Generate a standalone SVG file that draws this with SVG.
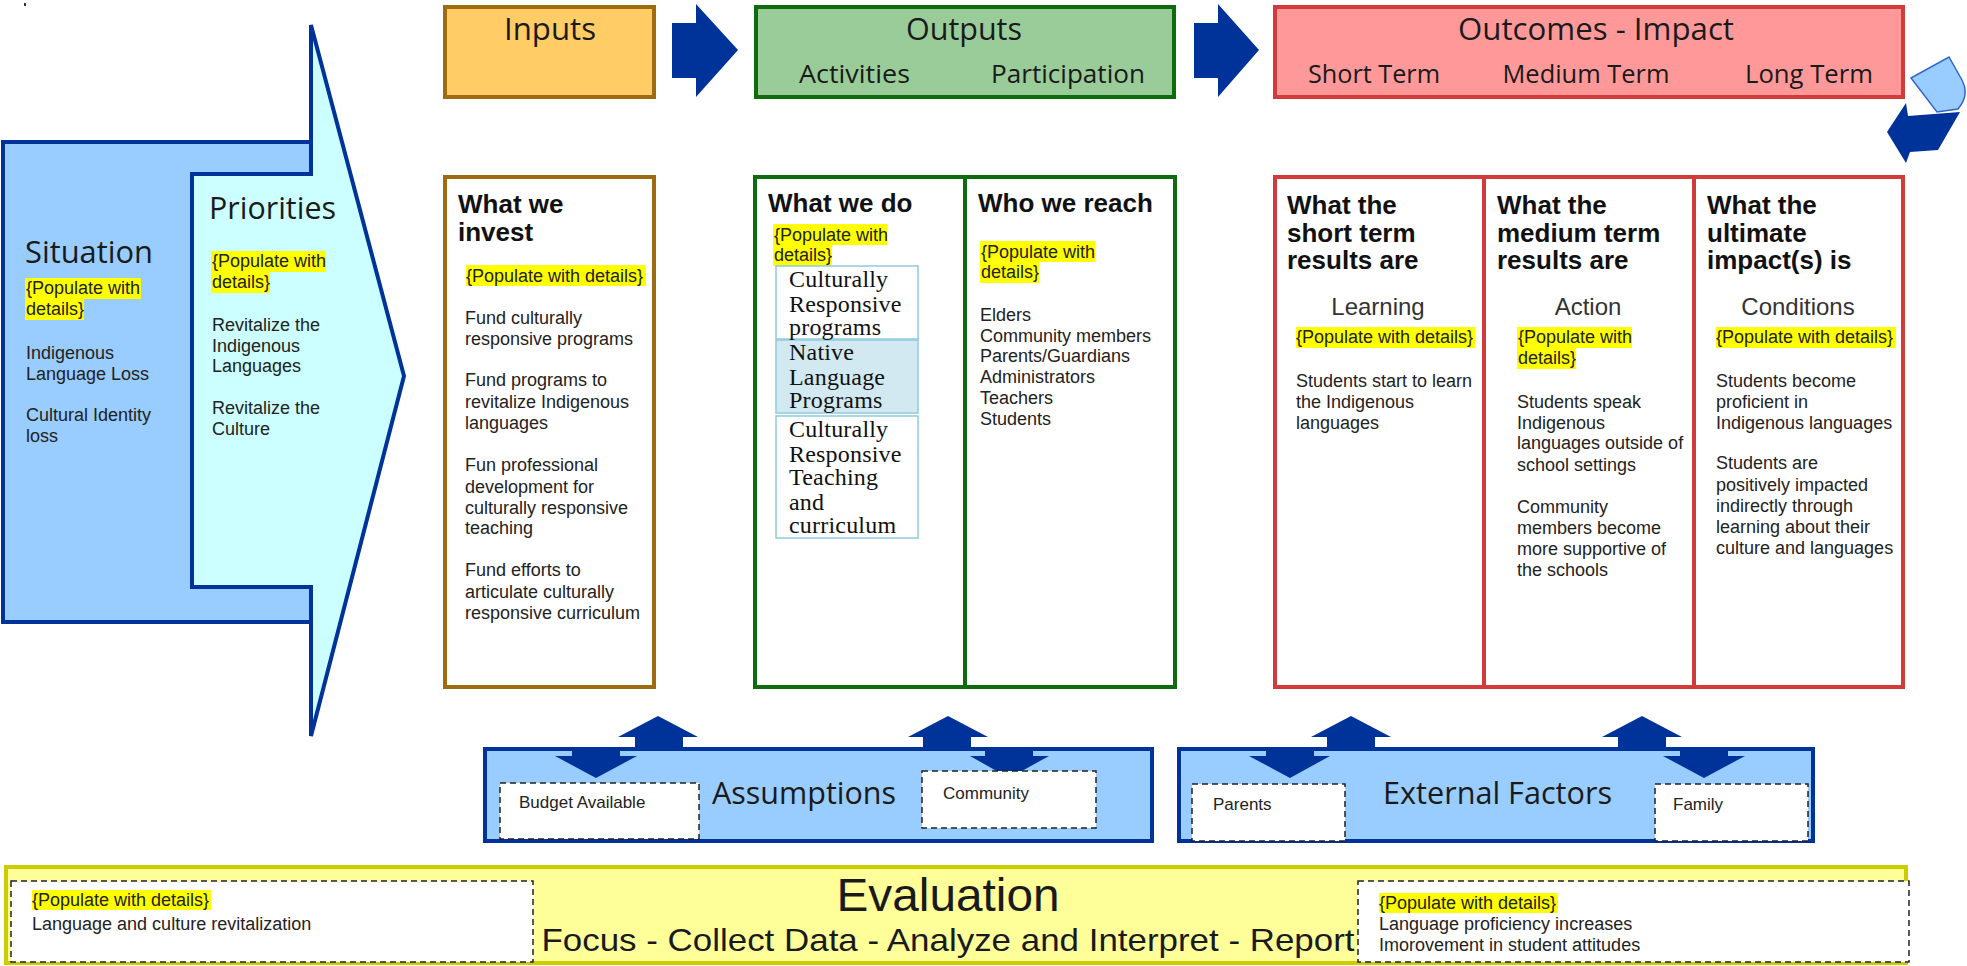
<svg xmlns="http://www.w3.org/2000/svg" width="1967" height="966" viewBox="0 0 1967 966">
<style>
.hd{font-family:"Open Sans","Noto Sans",sans-serif;font-size:31px;fill:#1a1a1a}
.sub{font-family:"Open Sans","Noto Sans",sans-serif;font-size:26px;fill:#1a1a1a}
.b{font-family:"Liberation Sans",Arial,sans-serif;font-size:26px;font-weight:bold;fill:#111}
.t{font-family:"Liberation Sans",Arial,sans-serif;font-size:18px;fill:#222}
.s{font-family:"Liberation Sans",Arial,sans-serif;font-size:17px;fill:#222}
.m{font-family:"Liberation Sans",Arial,sans-serif;font-size:24px;fill:#333}
.sf{font-family:"Liberation Serif","Times New Roman",serif;font-size:24px;letter-spacing:0.2px;fill:#111}
.hl{fill:#FFFF00}
.dbl{fill:#003399}
.blue{fill:#99CCFF;stroke:#003399;stroke-width:4}
.dash{fill:#fff;stroke:#222;stroke-width:1.5;stroke-dasharray:6 4}
.sbox{stroke:#8FCBE0;stroke-width:1.5}
</style>
<rect x="24" y="3" width="2" height="3" fill="#333"/>

<g id="situation">
<rect x="3" y="142" width="308" height="480" class="blue"/>
<text class="hd" x="25" y="263" textLength="128" lengthAdjust="spacingAndGlyphs">Situation</text>
<rect class="hl" x="25" y="278" width="116" height="21"/>
<rect class="hl" x="25" y="299" width="59" height="21"/>
<text class="t" x="26" y="294">{Populate with</text>
<text class="t" x="26" y="315">details}</text>
<text class="t" x="26" y="359">Indigenous</text>
<text class="t" x="26" y="380">Language Loss</text>
<text class="t" x="26" y="421">Cultural Identity</text>
<text class="t" x="26" y="442">loss</text>
</g>

<g id="priorities">
<polygon points="192,174 311,174 311,25 404,376 311,736 311,587 192,587" fill="#CCFFFF" stroke="#003399" stroke-width="4" stroke-linejoin="miter"/>
<text class="hd" x="209" y="219" textLength="127" lengthAdjust="spacingAndGlyphs">Priorities</text>
<rect class="hl" x="211" y="251" width="115" height="21"/>
<rect class="hl" x="211" y="272" width="59" height="21"/>
<text class="t" x="212" y="267">{Populate with</text>
<text class="t" x="212" y="288">details}</text>
<text class="t" x="212" y="331">Revitalize the</text>
<text class="t" x="212" y="352">Indigenous</text>
<text class="t" x="212" y="372">Languages</text>
<text class="t" x="212" y="414">Revitalize the</text>
<text class="t" x="212" y="435">Culture</text>
</g>

<g id="inputs-header">
<rect x="445" y="7" width="209" height="90" fill="#FFCC66" stroke="#9E6B10" stroke-width="4"/>
<text class="hd" x="550" y="40" text-anchor="middle" textLength="92" lengthAdjust="spacingAndGlyphs">Inputs</text>
</g>

<g id="outputs-header">
<rect x="756" y="7" width="418" height="90" fill="#99CC99" stroke="#0E6B0E" stroke-width="4"/>
<text class="hd" x="964" y="40" text-anchor="middle" textLength="116" lengthAdjust="spacingAndGlyphs">Outputs</text>
<text class="sub" x="799" y="83" textLength="111" lengthAdjust="spacingAndGlyphs">Activities</text>
<text class="sub" x="991" y="83" textLength="154" lengthAdjust="spacingAndGlyphs">Participation</text>
</g>

<g id="outcomes-header">
<rect x="1275" y="7" width="628" height="90" fill="#FF9999" stroke="#D13B3B" stroke-width="4"/>
<text class="hd" x="1596" y="40" text-anchor="middle" textLength="276" lengthAdjust="spacingAndGlyphs">Outcomes - Impact</text>
<text class="sub" x="1374" y="83" text-anchor="middle" textLength="132" lengthAdjust="spacingAndGlyphs">Short Term</text>
<text class="sub" x="1586" y="83" text-anchor="middle" textLength="167" lengthAdjust="spacingAndGlyphs">Medium Term</text>
<text class="sub" x="1809" y="83" text-anchor="middle" textLength="128" lengthAdjust="spacingAndGlyphs">Long Term</text>
</g>

<g id="invest">
<rect x="445" y="177" width="209" height="510" fill="#fff" stroke="#9E6B10" stroke-width="4"/>
<text class="b" x="458" y="213">What we</text>
<text class="b" x="458" y="241">invest</text>
<rect class="hl" x="466" y="265" width="180" height="21"/>
<text class="t" x="466" y="282">{Populate with details}</text>
<text class="t" x="465" y="324">Fund culturally</text>
<text class="t" x="465" y="345">responsive programs</text>
<text class="t" x="465" y="386">Fund programs to</text>
<text class="t" x="465" y="408">revitalize Indigenous</text>
<text class="t" x="465" y="429">languages</text>
<text class="t" x="465" y="471">Fun professional</text>
<text class="t" x="465" y="493">development for</text>
<text class="t" x="465" y="514">culturally responsive</text>
<text class="t" x="465" y="534">teaching</text>
<text class="t" x="465" y="576">Fund efforts to</text>
<text class="t" x="465" y="598">articulate culturally</text>
<text class="t" x="465" y="619">responsive curriculum</text>
</g>

<g id="outputs-detail">
<rect x="755" y="177" width="420" height="510" fill="#fff" stroke="#0E6B0E" stroke-width="4"/>
<line x1="965" y1="177" x2="965" y2="687" stroke="#0E6B0E" stroke-width="4"/>
<text class="b" x="768" y="212">What we do</text>
<rect class="hl" x="773" y="224" width="114" height="21"/>
<rect class="hl" x="773" y="245" width="59" height="21"/>
<text class="t" x="774" y="241">{Populate with</text>
<text class="t" x="774" y="261">details}</text>
<rect class="sbox" x="776" y="266" width="142" height="73" fill="#fff"/>
<rect class="sbox" x="776" y="340" width="142" height="73" fill="#D2E9F1"/>
<rect class="sbox" x="776" y="416" width="142" height="122" fill="#fff"/>
<text class="sf" x="789" y="287">Culturally</text>
<text class="sf" x="789" y="312">Responsive</text>
<text class="sf" x="789" y="335">programs</text>
<text class="sf" x="789" y="360">Native</text>
<text class="sf" x="789" y="385">Language</text>
<text class="sf" x="789" y="408">Programs</text>
<text class="sf" x="789" y="437">Culturally</text>
<text class="sf" x="789" y="462">Responsive</text>
<text class="sf" x="789" y="485">Teaching</text>
<text class="sf" x="789" y="510">and</text>
<text class="sf" x="789" y="533">curriculum</text>
<text class="b" x="978" y="212">Who we reach</text>
<rect class="hl" x="980" y="241" width="115" height="21"/>
<rect class="hl" x="980" y="262" width="59" height="21"/>
<text class="t" x="981" y="258">{Populate with</text>
<text class="t" x="981" y="278">details}</text>
<text class="t" x="980" y="321">Elders</text>
<text class="t" x="980" y="342">Community members</text>
<text class="t" x="980" y="362">Parents/Guardians</text>
<text class="t" x="980" y="383">Administrators</text>
<text class="t" x="980" y="404">Teachers</text>
<text class="t" x="980" y="425">Students</text>
</g>

<g id="outcomes-detail">
<rect x="1275" y="177" width="628" height="510" fill="#fff" stroke="#D13B3B" stroke-width="4"/>
<line x1="1484" y1="177" x2="1484" y2="687" stroke="#D13B3B" stroke-width="4"/>
<line x1="1694" y1="177" x2="1694" y2="687" stroke="#D13B3B" stroke-width="4"/>
<text class="b" x="1287" y="214">What the</text>
<text class="b" x="1287" y="242">short term</text>
<text class="b" x="1287" y="269">results are</text>
<text class="m" x="1378" y="315" text-anchor="middle">Learning</text>
<rect class="hl" x="1296" y="327" width="179" height="21"/>
<text class="t" x="1296" y="343">{Populate with details}</text>
<text class="t" x="1296" y="387">Students start to learn</text>
<text class="t" x="1296" y="408">the Indigenous</text>
<text class="t" x="1296" y="429">languages</text>

<text class="b" x="1497" y="214">What the</text>
<text class="b" x="1497" y="242">medium term</text>
<text class="b" x="1497" y="269">results are</text>
<text class="m" x="1588" y="315" text-anchor="middle">Action</text>
<rect class="hl" x="1517" y="327" width="115" height="21"/>
<rect class="hl" x="1517" y="348" width="59" height="21"/>
<text class="t" x="1518" y="343">{Populate with</text>
<text class="t" x="1518" y="364">details}</text>
<text class="t" x="1517" y="408">Students speak</text>
<text class="t" x="1517" y="429">Indigenous</text>
<text class="t" x="1517" y="449">languages outside of</text>
<text class="t" x="1517" y="471">school settings</text>
<text class="t" x="1517" y="513">Community</text>
<text class="t" x="1517" y="534">members become</text>
<text class="t" x="1517" y="555">more supportive of</text>
<text class="t" x="1517" y="576">the schools</text>

<text class="b" x="1707" y="214">What the</text>
<text class="b" x="1707" y="242">ultimate</text>
<text class="b" x="1707" y="269">impact(s) is</text>
<text class="m" x="1798" y="315" text-anchor="middle">Conditions</text>
<rect class="hl" x="1716" y="327" width="180" height="21"/>
<text class="t" x="1716" y="343">{Populate with details}</text>
<text class="t" x="1716" y="387">Students become</text>
<text class="t" x="1716" y="408">proficient in</text>
<text class="t" x="1716" y="429">Indigenous languages</text>
<text class="t" x="1716" y="469">Students are</text>
<text class="t" x="1716" y="491">positively impacted</text>
<text class="t" x="1716" y="512">indirectly through</text>
<text class="t" x="1716" y="533">learning about their</text>
<text class="t" x="1716" y="554">culture and languages</text>
</g>

<g id="assumptions">
<rect x="485" y="749" width="667" height="92" class="blue"/>
<text class="hd" x="712" y="804" textLength="184" lengthAdjust="spacingAndGlyphs">Assumptions</text>
<rect class="dash" x="500" y="783" width="199" height="56"/>
<text class="s" x="519" y="808">Budget Available</text>
</g>

<g id="external-factors">
<rect x="1179" y="749" width="634" height="92" class="blue"/>
<text class="hd" x="1383" y="804" textLength="229" lengthAdjust="spacingAndGlyphs">External Factors</text>
<rect class="dash" x="1192" y="784" width="153" height="57"/>
<text class="s" x="1213" y="810">Parents</text>
</g>

<g id="evaluation">
<rect x="6" y="867" width="1900" height="96" fill="#FFFF99" stroke="#CCCC00" stroke-width="4"/>
<text x="948" y="911" text-anchor="middle" textLength="223" lengthAdjust="spacingAndGlyphs" style="font-family:'Liberation Sans',Arial,sans-serif;font-size:46px;fill:#1a1a1a">Evaluation</text>
<text x="948" y="951" text-anchor="middle" textLength="813" lengthAdjust="spacingAndGlyphs" style="font-family:'Liberation Sans',Arial,sans-serif;font-size:32px;fill:#1a1a1a">Focus - Collect Data - Analyze and Interpret - Report</text>
<rect class="dash" x="11" y="881" width="522" height="81"/>
<rect class="hl" x="32" y="890" width="179" height="20"/>
<text class="t" x="32" y="906">{Populate with details}</text>
<text class="t" x="32" y="930">Language and culture revitalization</text>
<rect class="dash" x="1358" y="881" width="551" height="81"/>
<rect class="hl" x="1379" y="893" width="179" height="20"/>
<text class="t" x="1379" y="909">{Populate with details}</text>
<text class="t" x="1379" y="930">Language proficiency increases</text>
<text class="t" x="1379" y="951">Imorovement in student attitudes</text>
</g>

<g id="connectors">
<polygon class="dbl" points="672,23 696,23 696,4 738,50 696,97 696,78 672,78"/>
<polygon class="dbl" points="1194,23 1218,23 1218,4 1259,50 1218,97 1218,78 1194,78"/>
<path d="M1911,78 L1949,57 L1962,80 Q1970,95 1958,109 L1937,112 Z" fill="#99CCFF" stroke="#3366CC" stroke-width="1.5"/>
<polygon class="dbl" points="1887,132 1906,103 1908,116 1960,112 1938,150 1910,152 1906,163"/>
<polygon class="dbl" points="635,749 635,737 618,737 658,716 698,737 683,737 683,749"/>
<polygon class="dbl" points="572,749 620,749 620,756 637,756 596,778 555,756 572,756"/>
<polygon class="dbl" points="923,749 923,737 908,737 948,716 988,737 971,737 971,749"/>
<polygon class="dbl" points="985,749 1033,749 1033,756 1049,756 1009,778 970,756 985,756"/>
<polygon class="dbl" points="1327,749 1327,737 1311,737 1351,716 1391,737 1375,737 1375,749"/>
<polygon class="dbl" points="1266,749 1314,749 1314,756 1330,756 1290,778 1249,756 1266,756"/>
<polygon class="dbl" points="1618,749 1618,737 1602,737 1642,716 1682,737 1666,737 1666,749"/>
<polygon class="dbl" points="1680,749 1728,749 1728,756 1745,756 1704,778 1663,756 1680,756"/>
</g>

<g id="assumption-community">
<rect class="dash" x="922" y="771" width="174" height="57"/>
<text class="s" x="943" y="799">Community</text>
</g>
<g id="factor-family">
<rect class="dash" x="1655" y="784" width="153" height="57"/>
<text class="s" x="1673" y="810">Family</text>
</g>
</svg>
